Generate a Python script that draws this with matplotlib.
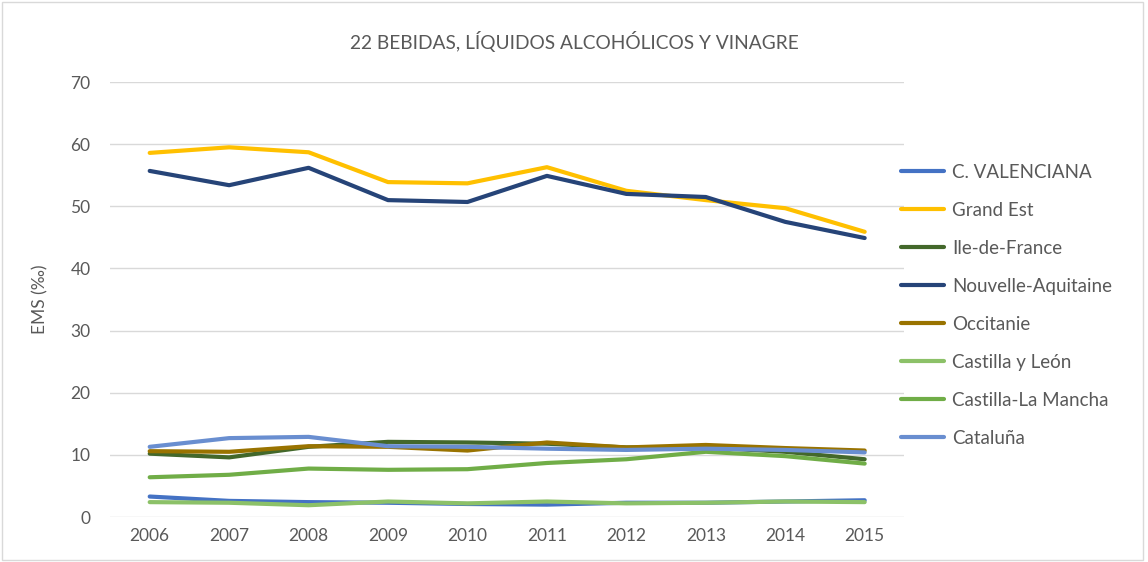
import matplotlib

matplotlib.use("Agg")

import matplotlib.pyplot as plt
from matplotlib.patches import Rectangle

plt.rcParams["font.family"] = ["Lato", "DejaVu Sans"]

YEARS = ["2006", "2007", "2008", "2009", "2010", "2011", "2012", "2013", "2014", "2015"]

C_VALENCIANA = [3.3, 2.6, 2.4, 2.3, 2.1, 2.0, 2.3, 2.3, 2.5, 2.7]
GRAND_EST = [58.6, 59.5, 58.7, 53.9, 53.7, 56.3, 52.5, 51.0, 49.7, 45.9]
ILE_DE_FRANCE = [10.2, 9.6, 11.3, 12.1, 12.0, 11.8, 11.2, 11.2, 10.5, 9.3]
NOUVELLE_AQUITAINE = [55.7, 53.4, 56.2, 51.0, 50.7, 54.9, 52.0, 51.5, 47.5, 44.9]
OCCITANIE = [10.6, 10.5, 11.4, 11.3, 10.7, 12.0, 11.2, 11.6, 11.1, 10.7]
CASTILLA_Y_LEON = [2.4, 2.3, 1.9, 2.5, 2.2, 2.5, 2.2, 2.3, 2.5, 2.4]
CASTILLA_LA_MANCHA = [6.4, 6.8, 7.8, 7.6, 7.7, 8.7, 9.3, 10.5, 9.8, 8.6]
CATALUNA = [11.3, 12.7, 12.9, 11.4, 11.3, 11.0, 10.8, 11.0, 10.8, 10.4]

SERIES = [
    ("C. VALENCIANA", C_VALENCIANA, "#4472C4"),
    ("Grand Est", GRAND_EST, "#FFC000"),
    ("Ile-de-France", ILE_DE_FRANCE, "#43682B"),
    ("Nouvelle-Aquitaine", NOUVELLE_AQUITAINE, "#264478"),
    ("Occitanie", OCCITANIE, "#997300"),
    ("Castilla y León", CASTILLA_Y_LEON, "#8CC168"),
    ("Castilla-La Mancha", CASTILLA_LA_MANCHA, "#70AD47"),
    ("Cataluña", CATALUNA, "#698ED0"),
]

TEXT_COLOR = "#595959"

fig = plt.figure(figsize=(11.48, 5.62), dpi=100)
ax = fig.add_axes([0.0958, 0.080, 0.692, 0.774])

x = list(range(len(YEARS)))
for name, values, color in SERIES:
    ax.plot(x, values, color=color, linewidth=3.0, label=name, solid_capstyle="round")

ax.set_xlim(-0.5, len(YEARS) - 0.5)
ax.set_ylim(0, 70)
ax.set_yticks(range(0, 71, 10))
ax.set_xticks(x)
ax.set_xticklabels(YEARS)
ax.grid(axis="y", color="#D9D9D9", linewidth=1.0)
ax.set_axisbelow(True)
for spine in ax.spines.values():
    spine.set_visible(False)
ax.tick_params(length=0, labelsize=12.5, colors=TEXT_COLOR, pad=8)
ax.tick_params(axis="y", pad=14)
ax.set_ylabel("EMS (‰)", fontsize=12.5, color=TEXT_COLOR, labelpad=16)

fig.text(0.5, 0.927, "22 BEBIDAS, LÍQUIDOS ALCOHÓLICOS Y VINAGRE",
         ha="center", va="center", fontsize=13.8, color=TEXT_COLOR)

leg = ax.legend(loc="center left", bbox_to_anchor=(0.996, 0.487), frameon=False,
                fontsize=13.5, labelspacing=1.12, handlelength=2.3, handletextpad=0.43,
                borderaxespad=0, borderpad=0)
for text in leg.get_texts():
    text.set_color(TEXT_COLOR)

fig.patches.append(Rectangle((0.002, 0.003), 0.994, 0.994, transform=fig.transFigure,
                             fill=False, edgecolor="#D9D9D9", linewidth=1.0))

fig.savefig("out.png", dpi=100)
